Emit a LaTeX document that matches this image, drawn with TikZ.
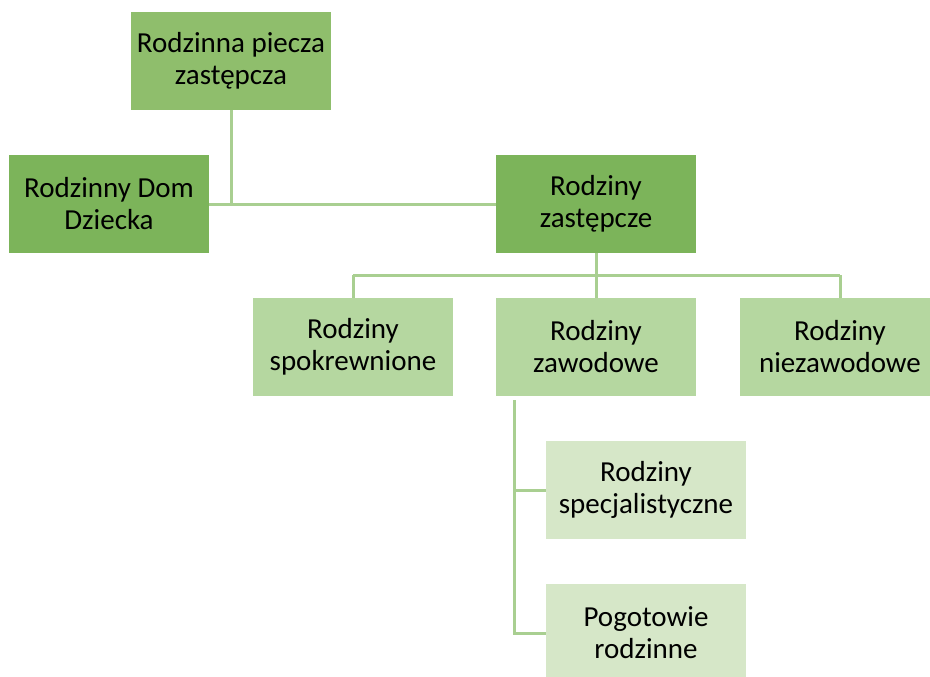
\documentclass[tikz,border=0pt]{standalone}
\usepackage{fontspec}
\setmainfont{Carlito}
\definecolor{gtop}{RGB}{143,190,108}
\definecolor{gmid}{RGB}{124,180,90}
\definecolor{glow}{RGB}{181,215,160}
\definecolor{gpale}{RGB}{214,231,200}
\definecolor{gline}{RGB}{169,207,145}
\pgfdeclarelayer{bg}
\pgfsetlayers{bg,main}
\begin{document}
\begin{tikzpicture}[x=1pt,y=-1pt,
  box/.style={rectangle, inner sep=0pt, minimum width=200pt, minimum height=98pt,
    align=center, font=\fontsize{29}{32}\selectfont, text=black},
  conn/.style={draw=gline, line width=3pt}]
\useasboundingbox (0,0) rectangle (930,677);
\node[box, fill=gtop]  (top)  at (231,61)  {Rodzinna piecza\\zastępcza};
\node[box, fill=gmid]  (rdd)  at (109,204) {Rodzinny Dom\\Dziecka};
\node[box, fill=gmid]  (rz)   at (596,204) {Rodziny\\zastępcze};
\node[box, fill=glow]  (spok) at (353,347) {Rodziny\\spokrewnione};
\node[box, fill=glow]  (zaw)  at (596,347) {Rodziny\\zawodowe};
\node[box, fill=glow]  (niez) at (840,347) {Rodziny\\niezawodowe};
\node[box, fill=gpale] (spec) at (646,490) {Rodziny\\specjalistyczne};
\node[box, fill=gpale] (pog)  at (646,633) {Pogotowie\\rodzinne};
\coordinate (j1) at (top.south |- rdd.east);
\coordinate (j2) at ([yshift=-22pt]rz.south);
\coordinate (zs) at ([xshift=19pt,yshift=-4pt]zaw.south west);
\begin{pgfonlayer}{bg}
\draw[conn] (top.south) -- (j1);
\draw[conn] (rdd.east) -- (rz.west);
\draw[conn] (rz.south) -- (j2);
\draw[conn] (spok.north |- j2) -- (niez.north |- j2);
\draw[conn] (j2) -- (zaw.north);
\draw[conn] (spok.north |- j2) -- (spok.north);
\draw[conn] (niez.north |- j2) -- (niez.north);
\draw[conn] (zs) -- (zs |- pog.west) -- (pog.west);
\draw[conn] (zs |- spec.west) -- (spec.west);
\end{pgfonlayer}
\end{tikzpicture}
\end{document}
